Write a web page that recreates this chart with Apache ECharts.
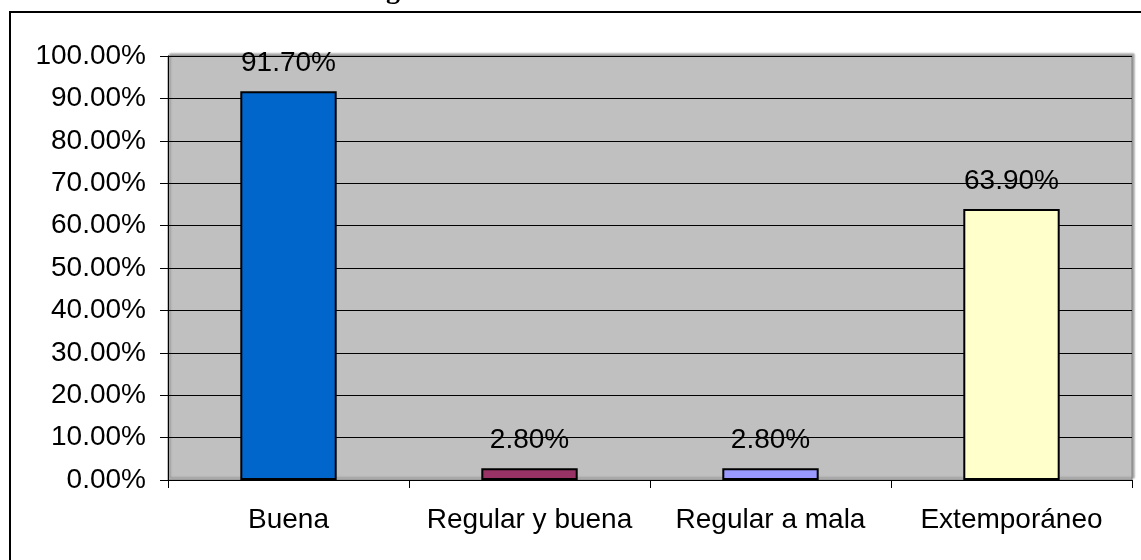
<!DOCTYPE html>
<html><head><meta charset="utf-8">
<script src="https://cdn.jsdelivr.net/npm/echarts@6/dist/echarts.min.js"></script>
<style>html,body{margin:0;padding:0;background:#fff}#c{width:1141px;height:560px}</style>
</head><body><div id="c"></div>
<script>
var categories = ['Buena', 'Regular y buena', 'Regular a mala', 'Extemporáneo'];
var values = [91.7, 2.8, 2.8, 63.9];
var barColors = ['#0066CC', '#993366', '#9999FF', '#FFFFCC'];
var yTicks = [0, 10, 20, 30, 40, 50, 60, 70, 80, 90, 100];

var chart = echarts.init(document.getElementById('c'), null, {renderer: 'canvas'});
var font = 'Liberation Sans';
chart.setOption({
  animation: false,
  backgroundColor: '#fff',
  graphic: [
    {type: 'rect', shape: {x: 10, y: 12, width: 1300, height: 700}, style: {fill: 'none', stroke: '#000', lineWidth: 2}, z: 100},
    {type: 'text', style: {text: 'g', x: 393, y: -23, textAlign: 'center', font: 'bold 28px "Liberation Serif"', fill: '#000'}, z: 100}
  ],
  grid: {left: 168, top: 56, right: 9, bottom: 80, show: true, backgroundColor: '#C0C0C0', borderColor: '#808080', borderWidth: 1,
         shadowColor: 'rgba(0,0,0,0.35)', shadowBlur: 2, shadowOffsetX: 2, shadowOffsetY: -2},
  xAxis: {
    type: 'category', data: categories,
    axisLine: {show: true, lineStyle: {color: '#000', width: 1}},
    axisTick: {show: true, length: 8, alignWithLabel: false, lineStyle: {color: '#000'}},
    axisLabel: {color: '#000', fontSize: 28, fontFamily: font, margin: 26, interval: 0},
    splitLine: {show: false}
  },
  yAxis: {
    type: 'value', min: 0, max: 100, interval: 10,
    axisLine: {show: true, lineStyle: {color: '#000', width: 1}},
    axisTick: {show: true, length: 8, lineStyle: {color: '#000'}},
    axisLabel: {color: '#000', fontSize: 28, fontFamily: font, margin: 22, formatter: function (v) { return v.toFixed(2) + '%'; }},
    splitLine: {show: true, lineStyle: {color: '#000', width: 1}}
  },
  series: [{
    type: 'bar', barWidth: '40%',
    data: values.map(function (v, i) { return {value: v, itemStyle: {color: barColors[i]}}; }),
    itemStyle: {borderColor: '#000', borderWidth: 2},
    label: {show: true, position: 'top', distance: 14, color: '#000', fontSize: 28, fontFamily: font,
            formatter: function (p) { return p.value.toFixed(2) + '%'; }}
  }]
});
</script></body></html>
